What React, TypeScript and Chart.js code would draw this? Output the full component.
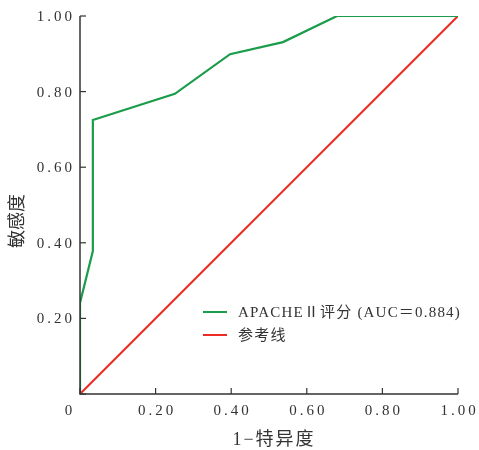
import React, { useEffect, useRef } from "react";
import { Chart, registerables } from "chart.js";

Chart.register(...registerables);

const apacheX = [0, 0, 0.034, 0.034, 0.251, 0.397, 0.537, 0.68, 1.0];
const apacheY = [0, 0.241, 0.378, 0.725, 0.794, 0.899, 0.931, 1.0, 1.0];
const refX = [0, 1];
const refY = [0, 1];
const tickValues = [0, 0.2, 0.4, 0.6, 0.8, 1.0];
const seriesNames = ["APACHEⅡ评分 (AUC＝0.884)", "参考线"];
const xTitle = "1−特异度";
const yTitle = "敏感度";

const GREEN = "#1a9c4a";
const RED = "#ee2a24";
const AXIS = "#333333";
const TEXT = "#333333";
const NUM_FONT = '15px "Liberation Serif", "DejaVu Serif", serif';
const MIX_FAMILY = '"Liberation Serif", "Noto Sans CJK SC", serif';

const customPlugin = {
  id: "custom",
  afterDraw(chart: any) {
    const ctx = chart.ctx;
    const xs = chart.scales.x;
    const ys = chart.scales.y;
    const area = chart.chartArea;
    ctx.save();
    // axes
    ctx.strokeStyle = AXIS;
    ctx.lineWidth = 1.5;
    ctx.beginPath();
    ctx.moveTo(area.left, area.top);
    ctx.lineTo(area.left, area.bottom);
    ctx.lineTo(area.right, area.bottom);
    ctx.stroke();
    // ticks inside
    ctx.lineWidth = 1.2;
    tickValues.forEach((v) => {
      const px = xs.getPixelForValue(v);
      ctx.beginPath();
      ctx.moveTo(px, area.bottom);
      ctx.lineTo(px, area.bottom - 6);
      ctx.stroke();
      const py = ys.getPixelForValue(v);
      ctx.beginPath();
      ctx.moveTo(area.left, py);
      ctx.lineTo(area.left + 6, py);
      ctx.stroke();
    });
    // tick labels
    ctx.fillStyle = TEXT;
    ctx.font = NUM_FONT;
    (ctx as any).letterSpacing = "3px";
    ctx.textBaseline = "middle";
    tickValues.forEach((v) => {
      const label = v === 0 ? "0" : v.toFixed(2);
      const px = xs.getPixelForValue(v);
      ctx.textAlign = "center";
      if (v === 0) {
        ctx.fillText(label, px - 10, area.bottom + 17);
      } else {
        ctx.fillText(label, px + 1.5, area.bottom + 17);
        const py = ys.getPixelForValue(v);
        ctx.textAlign = "right";
        ctx.fillText(label, area.left - 5, py + 1);
      }
    });
    // axis titles
    ctx.font = "18px " + MIX_FAMILY;
    (ctx as any).letterSpacing = "2px";
    ctx.textAlign = "center";
    ctx.textBaseline = "middle";
    ctx.fillText(xTitle, (area.left + area.right) / 2 + 5, area.bottom + 46);
    (ctx as any).letterSpacing = "0px";
    ctx.save();
    ctx.translate(18, (area.top + area.bottom) / 2 + 16);
    ctx.rotate(-Math.PI / 2);
    ctx.fillText(yTitle, 0, 0);
    ctx.restore();
    // legend
    const lx = 203;
    const ly = [312, 335];
    const colors = [GREEN, RED];
    ctx.font = "15px " + MIX_FAMILY;
    ctx.textAlign = "left";
    seriesNames.forEach((name, i) => {
      ctx.strokeStyle = colors[i];
      ctx.lineWidth = 2;
      ctx.beginPath();
      ctx.moveTo(lx, ly[i]);
      ctx.lineTo(lx + 24, ly[i]);
      ctx.stroke();
      ctx.fillStyle = TEXT;
      (ctx as any).letterSpacing = "1.2px";
      ctx.fillText(name, lx + 35, ly[i] + 1);
    });
    (ctx as any).letterSpacing = "0px";
    ctx.restore();
  },
};

export default function App() {
  const ref = useRef<HTMLCanvasElement | null>(null);
  useEffect(() => {
    if (!ref.current) return;
    const chart = new Chart(ref.current, {
      type: "scatter",
      data: {
        datasets: [
          {
            label: seriesNames[0],
            data: apacheX.map((x, i) => ({ x, y: apacheY[i] })),
            showLine: true,
            borderColor: GREEN,
            backgroundColor: GREEN,
            borderWidth: 2.2,
            pointRadius: 0,
            tension: 0,
          },
          {
            label: seriesNames[1],
            data: refX.map((x, i) => ({ x, y: refY[i] })),
            showLine: true,
            borderColor: RED,
            backgroundColor: RED,
            borderWidth: 2,
            pointRadius: 0,
            tension: 0,
          },
        ],
      },
      options: {
        responsive: false,
        animation: false,
        layout: { padding: { top: 16, right: 21, left: 0, bottom: 0 } },
        plugins: { legend: { display: false }, tooltip: { enabled: false } },
        scales: {
          x: {
            type: "linear",
            min: 0,
            max: 1,
            grid: { display: false, drawTicks: false },
            border: { display: false },
            ticks: { display: false, stepSize: 0.2 },
            afterFit: (s: any) => {
              s.height = 56;
            },
          },
          y: {
            type: "linear",
            min: 0,
            max: 1,
            grid: { display: false, drawTicks: false },
            border: { display: false },
            ticks: { display: false, stepSize: 0.2 },
            afterFit: (s: any) => {
              s.width = 80;
            },
          },
        },
      },
      plugins: [customPlugin],
    } as any);
    return () => chart.destroy();
  }, []);
  return (
    <div style={{ position: "absolute", left: 0, top: 0, width: 479, height: 450, background: "#fff" }}>
      <canvas ref={ref} width={479} height={450} />
    </div>
  );
}
